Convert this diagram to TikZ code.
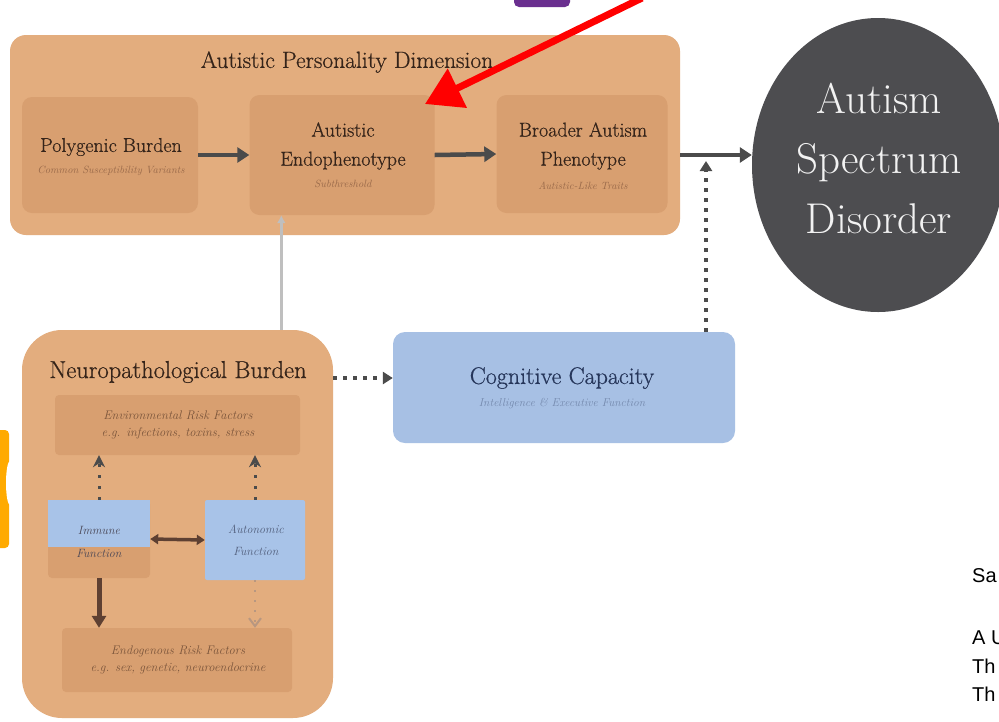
\documentclass[tikz,border=0pt]{standalone}
\usepackage{fontspec}
\newfontfamily\arialf{Liberation Sans}
\newfontfamily\heavy[FakeBold=0.6]{Latin Modern Roman}
\usetikzlibrary{arrows.meta,shapes.geometric}
\definecolor{tanbg}{HTML}{E3AD7E}
\definecolor{tanin}{HTML}{D89F70}
\definecolor{bluec}{HTML}{A8C3E8}
\definecolor{cogc}{HTML}{A7C0E4}
\definecolor{asdc}{HTML}{4D4D50}
\definecolor{arrc}{HTML}{4B4B4B}
\definecolor{brownt}{HTML}{35241A}
\definecolor{subt}{HTML}{9A6A4A}
\definecolor{brownarr}{HTML}{5E4032}
\definecolor{navyt}{HTML}{26365A}
\definecolor{purp}{HTML}{6A2F8F}
\definecolor{orng}{HTML}{FFAA00}
\begin{document}
\begin{tikzpicture}[x=1pt,y=-1pt,
  bigbox/.style={draw=none,fill=tanbg,rounded corners=16pt},
  inbox/.style={draw=none,fill=tanin,rounded corners=10pt},
  bluebox/.style={draw=none,fill=bluec,rounded corners=4pt},
  ttl/.style={text=brownt,align=center,inner sep=0pt},
  sub/.style={text=subt,font=\itshape\fontsize{10.5}{12}\selectfont,align=center,inner sep=0pt},
  fat/.style={draw=arrc,line width=4.5pt,-{Triangle[length=12pt,width=15pt]}},
  dots/.style={draw=arrc,line width=4pt,dash pattern=on 4pt off 6pt},
  side/.style={text=black,font=\arialf\fontsize{20}{22}\selectfont,anchor=west,inner sep=0pt}]
\useasboundingbox (0,0) rectangle (999,721);
\fill[white] (0,0) rectangle (999,721);
% decorations at edges
\fill[purp,rounded corners=5pt] (514,-10) -- (514,7) -- (570,7) -- (570,-10) -- cycle;
\fill[orng,rounded corners=4pt] (-10,430) -- (9,430) -- (9,548) -- (-10,548) -- cycle;
\fill[white] (10,483) ellipse (4 and 22);
% top group
\node[bigbox,minimum width=670pt,minimum height=200pt] (top) at (345,135) {};
\node[ttl,font=\heavy\fontsize{23.5}{25}\selectfont] (toptitle) at (347,62) {Autistic Personality Dimension};
\node[inbox,minimum width=176pt,minimum height=116pt] (poly) at (110,155) {};
\node[inbox,minimum width=185pt,minimum height=120pt] (endo) at (342,155) {};
\node[inbox,minimum width=171pt,minimum height=118pt] (bap) at (582,154) {};
\node[ttl,font=\heavy\fontsize{20}{21}\selectfont] (polyt) at (111,147) {Polygenic Burden};
\node[sub] (polys) at (111,171) {Common Susceptibility Variants};
\node[ttl,font=\heavy\fontsize{20}{29}\selectfont] (endot) at (343,146) {Autistic\\Endophenotype};
\node[sub] (endos) at (343,184) {Subthreshold};
\node[ttl,font=\heavy\fontsize{20}{29}\selectfont] (bapt) at (583,146) {Broader Autism\\Phenotype};
\node[sub] (baps) at (583,186) {Autistic-Like Traits};
% ASD
\node[ellipse,fill=asdc,minimum width=252pt,minimum height=294pt,inner sep=0pt] (asd) at (878,165) {};
\node[text=white!90!gray,font=\fontsize{43}{60}\selectfont,align=center,inner sep=0pt] (asdt) at (879,158) {Autism\\Spectrum\\Disorder};
% arrows top
\draw[fat] (poly.east) -- (endo.west);
\draw[fat] (endo.east) -- (bap.west);
\draw[fat] (top.east |- endo.center) -- (asd.west |- endo.center);
% neuropath group
\node[bigbox,rounded corners=40pt,minimum width=311pt,minimum height=388pt] (neuro) at (177.5,524) {};
\node[ttl,font=\heavy\fontsize{24.5}{26}\selectfont] (neurot) at (178,372) {Neuropathological Burden};
\node[inbox,rounded corners=4pt,minimum width=245pt,minimum height=60pt] (env) at (177.5,425) {};
\node[sub,text=subt!80!black,font=\itshape\fontsize{12.5}{14}\selectfont] (envt) at (178,425) {Environmental Risk Factors\\[3pt] e.g. infections, toxins, stress};
\node[inbox,rounded corners=4pt,minimum width=102pt,minimum height=78pt] (immune) at (99,539) {};
\fill[bluec] (immune.north west) rectangle ([yshift=-8pt]immune.east);
\node[sub,text=navyt!70!subt,font=\itshape\fontsize{12}{23}\selectfont] (immunet) at (99,542) {Immune\\Function};
\node[bluebox,rounded corners=2pt,minimum width=100pt,minimum height=80pt] (auton) at (255,540) {};
\node[sub,text=navyt!80!white,font=\itshape\fontsize{12}{22}\selectfont] (autont) at (256,540) {Autonomic\\Function};
\node[inbox,rounded corners=4pt,minimum width=230pt,minimum height=64pt] (endog) at (177,660) {};
\node[sub,text=subt!80!black,font=\itshape\fontsize{12.5}{14}\selectfont] (endogt) at (178,660) {Endogenous Risk Factors\\[3pt] e.g. sex, genetic, neuroendocrine};
% inner arrows
\draw[draw=arrc,line width=3pt,dash pattern=on 3pt off 8pt,-{Stealth[length=12pt,width=12pt]}] (immune.north) -- (immune.north |- env.south);
\draw[draw=arrc,line width=3pt,dash pattern=on 3pt off 8pt,-{Stealth[length=12pt,width=12pt]}] (auton.north) -- (auton.north |- env.south);
\draw[draw=brownarr,line width=3.5pt,{Triangle[length=8pt,width=10pt]}-{Triangle[length=8pt,width=10pt]}] (immune.east) -- (auton.west);
\draw[draw=brownarr,line width=5pt,-{Triangle[length=12pt,width=14pt]}] (immune.south) -- (immune.south |- endog.north);
\draw[draw=subt!70!white,line width=2pt,dash pattern=on 2pt off 8pt,-{Straight Barb[length=8pt,width=12pt]}] (auton.south) -- (auton.south |- endog.north);
% cognitive
\node[draw=none,fill=cogc,rounded corners=12pt,minimum width=342pt,minimum height=111pt] (cog) at (564,387.5) {};
\node[ttl,text=navyt,font=\heavy\fontsize{24}{26}\selectfont] (cogt) at (562,378) {Cognitive Capacity};
\node[sub,text=navyt!40!cogc,font=\itshape\fontsize{11.5}{13}\selectfont] (cogs) at (562,404) {Intelligence \& Executive Function};
% connectors between groups
\draw[dots,-{Triangle[length=10pt,width=12pt]}] (neuro.east |- cogt) -- (cog.west |- cogt);
\coordinate (cogtop) at (706,332);
\coordinate (join) at (706,161);
\draw[dots,-{Triangle[length=10pt,width=12pt]}] (cogtop) -- (join);
\draw[draw=gray!50,line width=2.5pt,-{Latex[length=8pt,width=9pt]}] (neuro.north -| endo.south west) ++(32,0) coordinate (gs) -- (gs |- endo.south);
% red arrow
\coordinate (redstart) at (642,-2);
\coordinate (redend) at (425,104);
\draw[red,line width=7pt,-{Triangle[length=36pt,width=42pt]}] (redstart) -- (redend);
% side texts
\node[side] (s1) at (972,576) {Sa};
\node[side] (s2) at (972,638) {A U};
\node[side] (s3) at (972,666) {Th};
\node[side] (s4) at (972,694) {Th};
\end{tikzpicture}
\end{document}
